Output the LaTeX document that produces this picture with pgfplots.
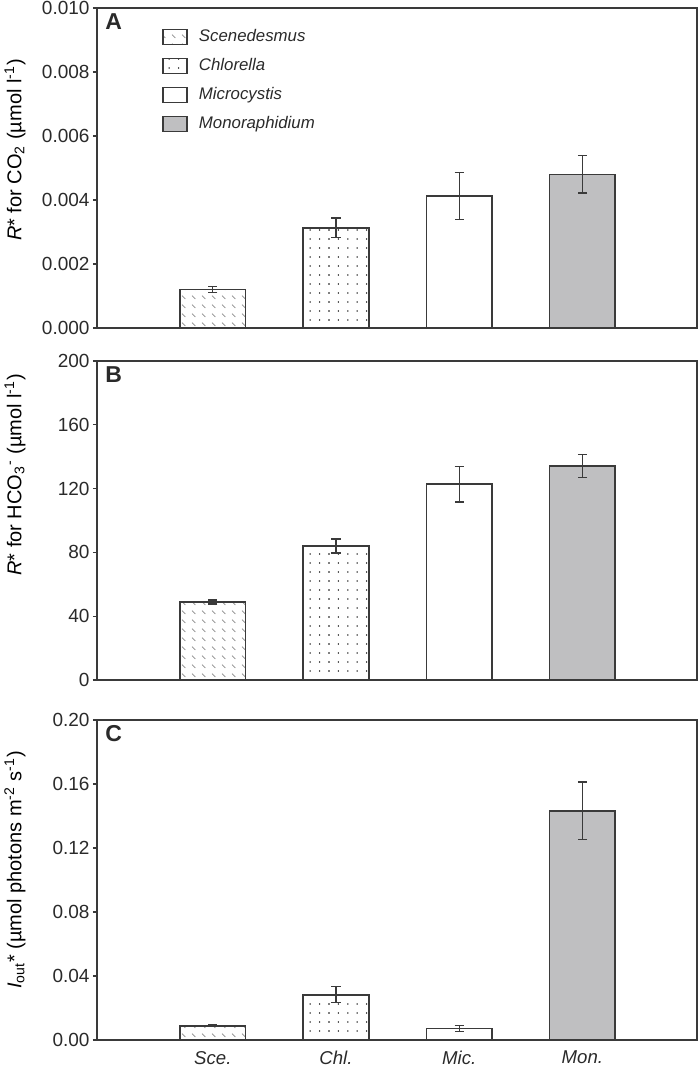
\documentclass[border=0pt]{standalone}
\usepackage{fontspec}
\setmainfont{Liberation Sans}
\usepackage{pgfplots}
\pgfplotsset{compat=1.18}
\usetikzlibrary{patterns}

\definecolor{edge}{HTML}{3A3A3A}
\definecolor{txt}{HTML}{2A2A2A}
\definecolor{mongray}{HTML}{BFBFC1}
\definecolor{dashgray}{HTML}{8A8A8A}

\pgfdeclarepatternformonly{scedash}{\pgfqpoint{-0.5pt}{-0.5pt}}{\pgfqpoint{5.5pt}{5pt}}{\pgfqpoint{5pt}{4.5pt}}{%
  \pgfsetlinewidth{0.35pt}%
  \pgfpathmoveto{\pgfqpoint{1pt}{3.2pt}}\pgfpathlineto{\pgfqpoint{2.7pt}{1.5pt}}\pgfusepath{stroke}}
\pgfdeclarepatternformonly{chldots}{\pgfqpoint{-0.5pt}{-0.5pt}}{\pgfqpoint{0.5pt}{0.5pt}}{\pgfqpoint{4.7pt}{4.5pt}}{%
  \pgfpathcircle{\pgfqpoint{0pt}{0pt}}{0.38pt}\pgfusepath{fill}}

\pgfplotsset{
  panel/.style={
    scale only axis, width=300pt, height=160pt,
    xmin=0.06, xmax=4.93, ymin=0,
    axis line style={edge, line width=0.75pt},
    xtick=\empty,
    ytick pos=left, tick align=outside, major tick length=2pt,
    tick style={edge, line width=0.6pt},
    yticklabel style={font=\fontsize{9.5}{11}\selectfont, text=txt, xshift=1.8pt},
    xticklabel style={font=\fontsize{9.3}{11}\selectfont\itshape, text=txt},
    label style={font=\fontsize{8.9}{11}\selectfont, text=txt},
    /pgf/number format/assume math mode=true,
    scaled y ticks=false,
    clip=false,
  },
  barbase/.style={ybar, bar width=32.75pt, bar shift=0pt, draw=edge, line width=0.8pt,
    error bars/y dir=both, error bars/y explicit,
    error bars/error bar style={edge, line width=0.6pt},
    error bars/error mark options={rotate=90, mark size=2.3pt, line width=0.6pt, edge}},
  sce/.style={barbase, pattern=scedash, pattern color=dashgray},
  chl/.style={barbase, pattern=chldots, pattern color=black},
  mic/.style={barbase, fill=white},
  mon/.style={barbase, fill=mongray},
}

\begin{document}
\begin{tikzpicture}
\path[use as bounding box] (0,0) rectangle (350pt,533.5pt);

% Panel A
\begin{axis}[panel, at={(48.5pt,369.5pt)}, anchor=south west,
  ymax=0.010, ytick={0,0.002,0.004,0.006,0.008,0.010},
  yticklabel style={/pgf/number format/.cd, fixed, fixed zerofill, precision=3},
  ylabel={\textit{R}* for CO\textsubscript{2} (µmol l\textsuperscript{-1})},
  every axis y label/.style={at={(axis description cs:-0.1367,0.556)}, rotate=90, anchor=center},
  legend style={draw=none, fill=none, at={(rel axis cs:0,1)}, anchor=north west,
    xshift=29.5pt, yshift=-7pt, row sep=3.9pt,
    font=\fontsize{8.4}{10}\selectfont\itshape, text=txt,
    nodes={inner sep=1.5pt},
    /tikz/every odd column/.append style={column sep=4pt}},
  legend cell align=left,
  legend image code/.code={\draw[#1] (0pt,-3.75pt) rectangle (12pt,3.75pt);},
]
\addplot[sce] coordinates {(1,0.0012) +- (0,0.0001)};
\addlegendentry{Scenedesmus}
\addplot[chl] coordinates {(2,0.00313) +- (0,0.00031)};
\addlegendentry{Chlorella}
\addplot[mic] coordinates {(3,0.00412) +- (0,0.00074)};
\addlegendentry{Microcystis}
\addplot[mon] coordinates {(4,0.0048) +- (0,0.00058)};
\addlegendentry{Monoraphidium}
\node[anchor=north west, inner sep=0pt, font=\fontsize{11.5}{12}\selectfont\bfseries, text=txt]
  at (rel axis cs:0,1) [xshift=4pt, yshift=-2.5pt] {A};
\end{axis}

% Panel B
\begin{axis}[panel, at={(48.5pt,193.5pt)}, anchor=south west, height=159.5pt,
  ymax=200, ytick={0,40,80,120,160,200},
  ylabel={\textit{R}* for HCO\textsubscript{3}\textsuperscript{-} (µmol l\textsuperscript{-1})},
  label style={font=\fontsize{10.3}{12}\selectfont},
  every axis y label/.style={at={(axis description cs:-0.1367,0.643)}, rotate=90, anchor=center},
]
\addplot[sce] coordinates {(1,48.9) +- (0,1.3)};
\addplot[chl] coordinates {(2,84.0) +- (0,4.4)};
\addplot[mic] coordinates {(3,122.7) +- (0,11.1)};
\addplot[mon] coordinates {(4,134.2) +- (0,7.2)};
\node[anchor=north west, inner sep=0pt, font=\fontsize{11.5}{12}\selectfont\bfseries, text=txt]
  at (rel axis cs:0,1) [xshift=4pt, yshift=-2.5pt] {B};
\end{axis}

% Panel C
\begin{axis}[panel, at={(48.5pt,13.5pt)}, anchor=south west,
  ymax=0.20, ytick={0,0.04,0.08,0.12,0.16,0.20},
  yticklabel style={/pgf/number format/.cd, fixed, fixed zerofill, precision=2},
  xtick={1,2,3,4}, xticklabels={Sce., Chl., Mic., Mon.},
  x tick style={draw=none},
  label style={font=\fontsize{9.1}{11}\selectfont},
  ylabel={\textit{I}\textsubscript{out}* (µmol photons m\textsuperscript{-2} s\textsuperscript{-1})},
  every axis y label/.style={at={(axis description cs:-0.1367,0.531)}, rotate=90, anchor=center},
]
\addplot[sce] coordinates {(1,0.0089) +- (0,0.0007)};
\addplot[chl] coordinates {(2,0.0283) +- (0,0.0051)};
\addplot[mic] coordinates {(3,0.0071) +- (0,0.0019)};
\addplot[mon] coordinates {(4,0.1433) +- (0,0.018)};
\node[anchor=north west, inner sep=0pt, font=\fontsize{11.5}{12}\selectfont\bfseries, text=txt]
  at (rel axis cs:0,1) [xshift=4pt, yshift=-2.5pt] {C};
\end{axis}
\end{tikzpicture}
\end{document}
